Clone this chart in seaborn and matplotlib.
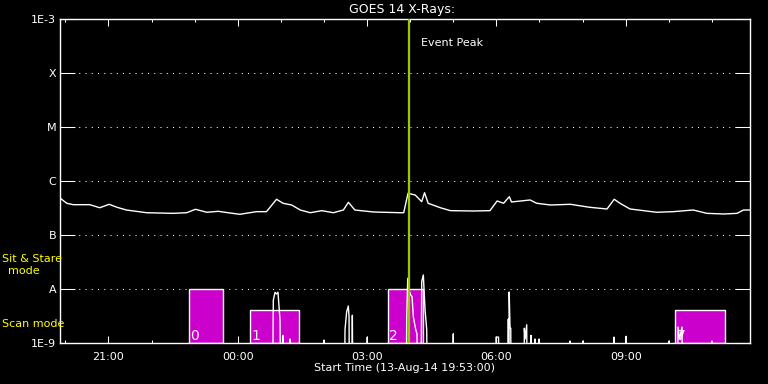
import numpy as np
import pandas as pd
import matplotlib
matplotlib.use('Agg')
import matplotlib.pyplot as plt
import matplotlib.dates as mdates
from matplotlib.ticker import FixedLocator, NullLocator
import seaborn as sns

#------------------------------------------------
t_start = pd.Timestamp('2014-08-13 19:53:00')
t_end = pd.Timestamp('2014-08-14 11:53:00')
event_peak = pd.Timestamp('2014-08-14 03:59:00')

# long channel: minutes after start, flux W/m^2
goes_min = [0, 9, 18, 41, 55, 68, 79, 92, 120, 157, 176, 188, 204, 220, 236, 250,
            273, 287, 301, 310, 322, 334, 348, 364, 380, 394, 401, 410, 436, 473,
            478, 484, 494, 503, 507, 512, 529, 543, 575, 598, 608, 617, 625, 628,
            654, 663, 682, 710, 737, 761, 771, 779, 793, 830, 853, 881, 900, 923,
            942, 951, 960]
goes_flux = [4.84e-7, 3.92e-7, 3.69e-7, 3.69e-7, 3.24e-7, 3.75e-7, 3.30e-7, 2.94e-7,
             2.62e-7, 2.55e-7, 2.62e-7, 3.03e-7, 2.67e-7, 2.78e-7, 2.59e-7, 2.45e-7,
             2.74e-7, 2.74e-7, 4.65e-7, 3.92e-7, 3.64e-7, 2.94e-7, 2.62e-7, 2.86e-7,
             2.62e-7, 2.94e-7, 4.08e-7, 2.94e-7, 2.70e-7, 2.62e-7, 2.62e-7, 6.00e-7,
             5.57e-7, 4.19e-7, 6.15e-7, 3.92e-7, 3.24e-7, 2.86e-7, 2.82e-7, 2.86e-7,
             4.32e-7, 3.92e-7, 5.19e-7, 4.14e-7, 4.51e-7, 3.92e-7, 3.64e-7, 3.75e-7,
             3.30e-7, 3.07e-7, 4.65e-7, 3.92e-7, 3.07e-7, 2.67e-7, 2.74e-7, 2.94e-7,
             2.55e-7, 2.48e-7, 2.55e-7, 2.94e-7, 2.94e-7]

# short channel: mostly below the plot floor, with spikes
low_min = [0, 295.5, 296.5, 298.9, 301, 303, 305.8, 307, 309.5, 310, 311, 319.5, 319.7, 320,
           366.5, 367, 367.5, 395.5, 396.3, 398.6, 400.9, 401.9, 402.5, 405.8, 406.5, 407.3,
           426.8, 427.3, 427.8, 481.5, 482.2, 483.6, 485.4, 487.8, 489.6, 491.4, 494.7,
           496.5, 497.5, 502, 503.1, 505.3, 507.7, 510, 511, 546.5, 547, 547.5,
           606, 606.5, 610, 610.5, 623, 623.6, 624.2, 624.8, 626, 627, 627.5,
           645.5, 645.9, 647, 649.2, 649.8, 654.8, 655.2, 655.6, 660.3, 660.8, 661.3,
           666, 666.4, 666.8, 708.8, 709.2, 709.6, 727.2, 727.6, 728, 770.4, 770.8, 771.2,
           787, 787.5, 788, 846.8, 847.2, 847.6, 859.3, 859.8, 862, 865.4, 866,
           906.6, 907, 907.4, 960]
low_flux = [1e-10, 1e-10, 6.3e-9, 8.8e-9, 8.2e-9, 8.8e-9, 2.7e-9, 1e-10, 1e-10, 1.4e-9, 1e-10, 1e-10, 1.2e-9, 1e-10,
            1e-10, 1.15e-9, 1e-10, 1e-10, 1.8e-9, 3.85e-9, 4.9e-9, 3.1e-9, 1e-10, 1e-10, 3.3e-9, 1e-10,
            1e-10, 1.3e-9, 1e-10, 1e-10, 3.1e-9, 1.6e-8, 9.7e-9, 7.8e-9, 7.3e-9, 3.1e-9, 1.8e-9,
            1.5e-9, 1e-10, 1e-10, 1.4e-8, 1.84e-8, 4.2e-9, 1.8e-9, 1e-10, 1e-10, 1.5e-9, 1e-10,
            1e-10, 1.3e-9, 1.3e-9, 1e-10, 1e-10, 2.8e-9, 1e-10, 8.9e-9, 1.9e-9, 1.9e-9, 1e-10,
            1e-10, 1.9e-9, 1.2e-9, 2.2e-9, 1e-10, 1e-10, 1.4e-9, 1e-10, 1e-10, 1.2e-9, 1e-10,
            1e-10, 1.2e-9, 1e-10, 1e-10, 1.1e-9, 1e-10, 1e-10, 1.1e-9, 1e-10, 1e-10, 1.3e-9, 1e-10,
            1e-10, 1.35e-9, 1e-10, 1e-10, 1.1e-9, 1e-10, 1e-10, 2.0e-9, 1.2e-9, 2.0e-9, 1e-10,
            1e-10, 1.1e-9, 1e-10, 1e-10]

# observing mode bars
bar_start = ['2014-08-13 22:52', '2014-08-14 00:17', '2014-08-14 03:29', '2014-08-14 10:09']
bar_end = ['2014-08-13 23:40', '2014-08-14 01:25', '2014-08-14 04:18', '2014-08-14 11:18']
bar_top = [1e-8, 4.2e-9, 1e-8, 4.2e-9]
bar_label = ['0', '1', '2', '7']

ytick_vals = [1e-9, 1e-8, 1e-7, 1e-6, 1e-5, 1e-4, 1e-3]
ytick_labels = ['1E-9', 'A', 'B', 'C', 'M', 'X', '1E-3']

#########################################################
sns.set_theme(style='dark', rc={'figure.facecolor': 'black', 'axes.facecolor': 'black',
                                'axes.edgecolor': 'white', 'text.color': 'white',
                                'xtick.color': 'white', 'ytick.color': 'white'})
plt.rcParams['font.family'] = ['DejaVu Sans']

W, H = 768, 384
fig = plt.figure(figsize=(7.68, 3.84), dpi=100)
ax = fig.add_axes([60.3/W, 1-343.3/H, (750-60.3)/W, (343.3-19.3)/H])

df_long = pd.DataFrame({'time': t_start + pd.to_timedelta(goes_min, unit='m'), 'flux': goes_flux})
df_low = pd.DataFrame({'time': t_start + pd.to_timedelta(low_min, unit='m'), 'flux': low_flux})

#bars
b0 = mdates.date2num(pd.to_datetime(bar_start))
b1 = mdates.date2num(pd.to_datetime(bar_end))
heights = np.array(bar_top) - 1e-9
ax.bar(b0, heights, width=b1-b0, bottom=1e-9, align='edge', color='#cc00cc', zorder=1)
for x, lab in zip(b0, bar_label):
    ax.text(x + 0.0012, 1.03e-9, lab, color='white', fontsize=10, ha='left', va='bottom', zorder=4)

#curves
sns.lineplot(data=df_long, x='time', y='flux', color='white', lw=1.0, ax=ax,
             estimator=None, sort=False, zorder=3)
sns.lineplot(data=df_low, x='time', y='flux', color='white', lw=1.0, ax=ax,
             estimator=None, sort=False, zorder=3)

ax.axvline(mdates.date2num(event_peak), color='#99cc00', lw=1.6, zorder=5)

#axes
ax.set_yscale('log')
ax.set_ylim(1e-9, 1e-3)
ax.set_xlim(mdates.date2num(t_start), mdates.date2num(t_end))
ax.yaxis.set_major_locator(FixedLocator(ytick_vals))
ax.yaxis.set_minor_locator(NullLocator())
ax.set_yticklabels(ytick_labels)
ax.xaxis.set_major_locator(mdates.HourLocator(byhour=range(0, 24, 3)))
ax.xaxis.set_minor_locator(mdates.HourLocator())
ax.xaxis.set_major_formatter(mdates.DateFormatter('%H:%M'))
ax.set_xlabel('')
ax.set_ylabel('')

ax.grid(False)
ax.grid(axis='y', which='major', color='white', ls=(0, (1, 5)), lw=0.75)
ax.tick_params(axis='y', which='major', direction='in', length=10.8, width=0.75,
               left=True, right=True, labelsize=8, pad=3, colors='white')
ax.tick_params(axis='x', which='major', direction='in', length=5, width=0.75,
               top=True, bottom=True, labelsize=8, pad=6, colors='white')
ax.tick_params(axis='x', which='minor', direction='in', length=2.5, width=0.75,
               top=True, bottom=True)
for s in ax.spines.values():
    s.set_color('white')
    s.set_linewidth(1)

#texts
fig.text(401.7/W, 1-10/H, 'GOES 14 X-Rays:', ha='center', va='center', color='white', fontsize=9)
fig.text(405/W, 1-367.7/H, 'Start Time (13-Aug-14 19:53:00)', ha='center', va='center',
         color='white', fontsize=8)
fig.text(420.7/W, 1-43.3/H, 'Event Peak', ha='left', va='center', color='white', fontsize=8)
fig.text(2/W, 1-259/H, 'Sit & Stare', ha='left', va='center', color='yellow', fontsize=8)
fig.text(24/W, 1-271/H, 'mode', ha='center', va='center', color='yellow', fontsize=8)
fig.text(2/W, 1-324/H, 'Scan mode', ha='left', va='center', color='yellow', fontsize=8)

plt.savefig('out.png', dpi=100, facecolor='black')
plt.close()
